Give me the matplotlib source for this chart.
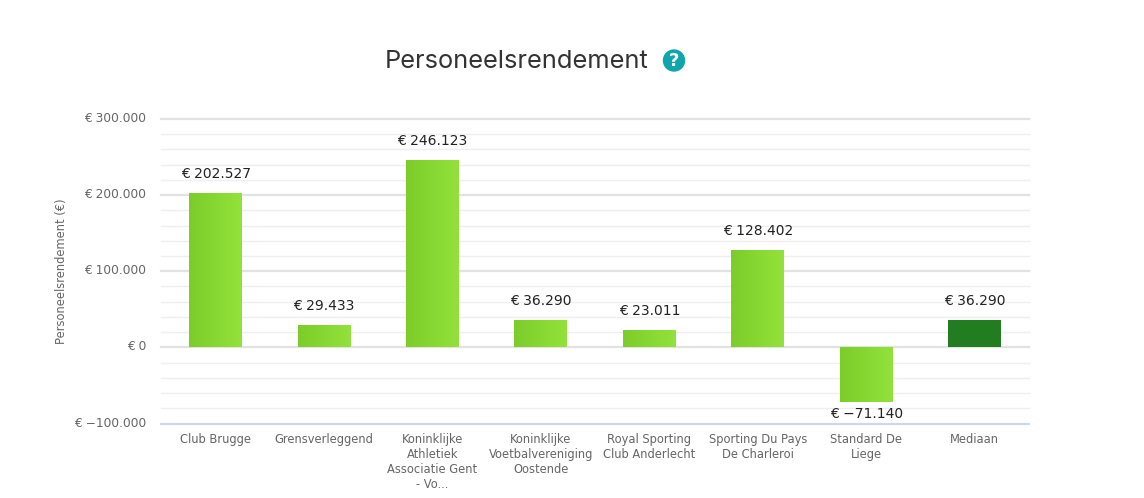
import numpy as np
import matplotlib
matplotlib.use("Agg")
import matplotlib.pyplot as plt
from matplotlib.colors import LinearSegmentedColormap
from matplotlib.patches import Circle
from matplotlib.transforms import ScaledTranslation

categories = ["Club Brugge", "Grensverleggend", "Koninklijke\nAthletiek\nAssociatie Gent\n- Vo...",
              "Koninklijke\nVoetbalvereniging\nOostende", "Royal Sporting\nClub Anderlecht",
              "Sporting Du Pays\nDe Charleroi", "Standard De\nLiege", "Mediaan"]
values = [202527, 29433, 246123, 36290, 23011, 128402, -71140, 36290]
value_labels = ["€ 202.527", "€ 29.433", "€ 246.123", "€ 36.290", "€ 23.011", "€ 128.402", "€ −71.140", "€ 36.290"]
y_ticks = [-100000, 0, 100000, 200000, 300000]
y_labels = ["€ −100.000", "€ 0", "€ 100.000", "€ 200.000", "€ 300.000"]

W, H = 1144, 498
fig = plt.figure(figsize=(W / 100, H / 100), dpi=100)
ax = fig.add_axes([161.4 / W, 1 - 423.5 / H, 867.5 / W, (423.5 - 119) / H])
ax.set_xlim(-0.5, 7.5)
ax.set_ylim(-100000, 300000)

# grid
ax.set_yticks(y_ticks)
ax.set_yticklabels(y_labels, fontsize=8.8, color="#666666")
ax.set_yticks(np.arange(-100000, 300001, 20000), minor=True)
ax.grid(which="minor", axis="y", color="#efefef", linewidth=1, clip_on=False)
ax.grid(which="major", axis="y", color="#e2e2e2", linewidth=1.6, clip_on=False)
ax.set_axisbelow(True)
ax.tick_params(axis="y", which="both", length=0, pad=11)
ax.tick_params(axis="x", length=0, pad=6.5)
for s in ["top", "left", "right"]:
    ax.spines[s].set_visible(False)
ax.spines["bottom"].set_color("#ccd6eb")
ax.spines["bottom"].set_linewidth(1.2)

# tick labels sit a little above their gridline
up = ScaledTranslation(0, 2 / 100, fig.dpi_scale_trans)
for lab in ax.get_yticklabels():
    lab.set_transform(lab.get_transform() + up)

ax.set_xticks(range(len(categories)))
ax.set_xticklabels(categories, fontsize=8.3, color="#666666", linespacing=1.22, va="top")
ax.set_ylabel("Personeelsrendement (€)", fontsize=8.3, color="#666666")
ax.yaxis.set_label_coords((68 - 161.4) / 867.5, 0.5)

# bars with a left-right gradient, last one plain dark green
green = LinearSegmentedColormap.from_list("g", ["#7ccd2a", "#93e23b"])
grad = np.linspace(0, 1, 64).reshape(1, -1)
width = 53 / 108.5
for i, v in enumerate(values):
    if i == len(values) - 1:
        ax.bar(i, v, width, color="#217d20", zorder=3)
    else:
        b = ax.bar(i, v, width, color="none", zorder=3)[0]
        im = ax.imshow(grad, cmap=green, aspect="auto", zorder=3,
                       extent=(i - width / 2, i + width / 2, min(0, v), max(0, v)))
        im.set_clip_path(b)
    if v >= 0:
        ax.annotate(value_labels[i], (i, v), xytext=(0, 8.5), textcoords="offset points",
                    ha="center", va="bottom", fontsize=10, color="#222222", zorder=4)
    else:
        ax.annotate(value_labels[i], (i, v), xytext=(0, -4), textcoords="offset points",
                    ha="center", va="top", fontsize=10, color="#222222", zorder=4)
ax.set_xlim(-0.5, 7.5)
ax.set_ylim(-100000, 300000)

# title and help icon
fig.text(516.5 / W, 1 - 61 / H, "Personeelsrendement", ha="center", va="center",
         fontsize=18.3, color="#333333", family="Inter")
ov = fig.add_axes([0, 0, 1, 1])
ov.set_xlim(0, W)
ov.set_ylim(H, 0)
ov.axis("off")
ov.patch.set_alpha(0)
ov.add_patch(Circle((674, 60.5), 10.5, color="#0ea5ad"))
ov.text(674, 61, "?", ha="center", va="center", fontsize=13, color="white", fontweight="bold")

fig.savefig("out.png", dpi=100)
